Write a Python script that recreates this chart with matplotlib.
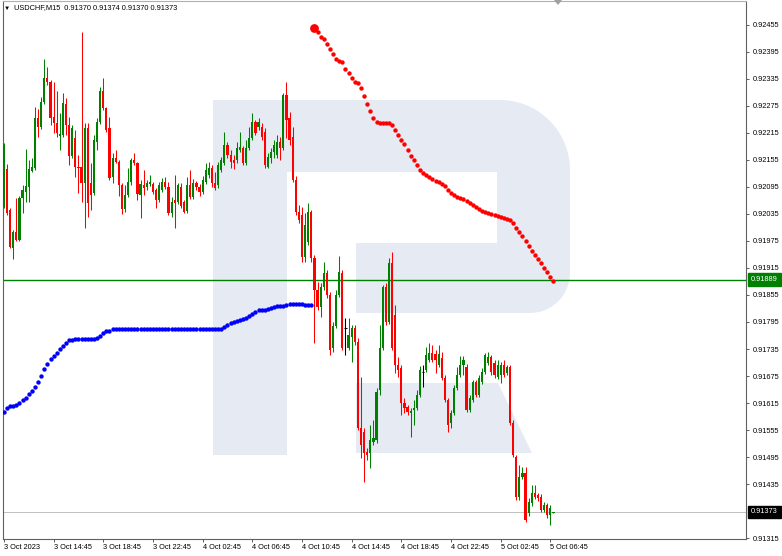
import numpy as np
import matplotlib
matplotlib.use("Agg")
import matplotlib.pyplot as plt
from matplotlib.patches import Polygon
from matplotlib.transforms import blended_transform_factory

plt.rcParams['font.family'] = ['Liberation Sans', 'DejaVu Sans']

# USDCHF M15 bars, prices in points (1 point = 0.00001)
opens = [
    92051, 92135, 92044, 91960, 91995, 91978, 92071, 92084, 92095, 92131,
    92138, 92249, 92229, 92284, 92338, 92327, 92251, 92238, 92209, 92211,
    92280, 92233, 92164, 92204, 92140, 92140, 92104, 92227, 92104, 92082,
    92195, 92240, 92307, 92271, 92227, 92118, 92160, 92151, 92100, 92047,
    92078, 92107, 92155, 92149, 92078, 92100, 92095, 92102, 92102, 92089,
    92067, 92089, 92107, 92095, 92038, 92067, 92062, 92095, 92062, 92042,
    92100, 92073, 92104, 92095, 92084, 92107, 92122, 92138, 92104, 92100,
    92133, 92149, 92189, 92167, 92155, 92155, 92178, 92182, 92149, 92182,
    92204, 92240, 92229, 92229, 92218, 92140, 92160, 92173, 92167, 92195,
    92182, 92300, 92249, 92207, 92111, 92040, 92033, 91940, 91973, 92040,
    91938, 91867, 91829, 91873, 91904, 91855, 91738, 91787, 91855, 91904,
    91782, 91738, 91762, 91782, 91751, 91560, 91551, 91507, 91504, 91529,
    91533, 91644, 91738, 91873, 91795, 91927, 91811, 91700, 91693, 91615,
    91607, 91593, 91600, 91604, 91633, 91684, 91689, 91711, 91727, 91724,
    91700, 91715, 91671, 91622, 91571, 91593, 91649, 91678, 91700, 91695,
    91600, 91622, 91662, 91633, 91662, 91684, 91704, 91718, 91704, 91673,
    91678, 91700, 91682, 91695, 91571, 91495, 91407, 91451, 91460, 91371,
    91393, 91415, 91411, 91407, 91378, 91389, 91367, 91370,
]
highs = [
    92193, 92147, 92049, 92000, 92071, 92075, 92100, 92180, 92155, 92160,
    92273, 92269, 92295, 92380, 92362, 92333, 92329, 92307, 92260, 92304,
    92293, 92251, 92233, 92222, 92167, 92440, 92238, 92238, 92149, 92211,
    92249, 92318, 92338, 92273, 92251, 92171, 92178, 92155, 92104, 92100,
    92138, 92160, 92171, 92151, 92111, 92133, 92111, 92122, 92107, 92093,
    92107, 92115, 92118, 92107, 92073, 92122, 92104, 92104, 92067, 92118,
    92133, 92113, 92109, 92102, 92120, 92149, 92151, 92144, 92129, 92151,
    92162, 92218, 92195, 92178, 92167, 92195, 92218, 92187, 92200, 92229,
    92260, 92244, 92249, 92238, 92227, 92171, 92182, 92200, 92211, 92207,
    92304, 92327, 92262, 92229, 92120, 92055, 92051, 92038, 92060, 92044,
    91944, 91884, 91882, 91929, 91911, 91862, 91795, 91867, 91942, 91911,
    91804, 91804, 91789, 91789, 91760, 91673, 91560, 91515, 91567, 91578,
    91649, 91789, 91878, 91882, 91938, 91951, 91833, 91718, 91700, 91627,
    91611, 91604, 91622, 91644, 91698, 91700, 91740, 91749, 91744, 91733,
    91744, 91729, 91678, 91627, 91600, 91655, 91695, 91720, 91720, 91702,
    91633, 91667, 91667, 91678, 91693, 91727, 91729, 91722, 91711, 91711,
    91707, 91711, 91700, 91700, 91578, 91500, 91478, 91473, 91473, 91404,
    91433, 91433, 91415, 91413, 91395, 91393, 91389, 91374,
]
lows = [
    92049, 92033, 91960, 91935, 91975, 91975, 92038, 92062, 92062, 92129,
    92133, 92207, 92224, 92280, 92322, 92233, 92215, 92207, 92178, 92207,
    92211, 92144, 92160, 92118, 92082, 92062, 92004, 92029, 92044, 92078,
    92178, 92235, 92267, 92218, 92111, 92104, 92149, 92075, 92035, 92040,
    92073, 92100, 92144, 92067, 92027, 92078, 92089, 92098, 92080, 92049,
    92062, 92084, 92091, 92033, 92029, 92004, 92058, 92049, 92038, 92038,
    92069, 92069, 92089, 92075, 92080, 92102, 92115, 92095, 92089, 92093,
    92129, 92144, 92160, 92138, 92135, 92149, 92173, 92144, 92144, 92178,
    92200, 92211, 92222, 92200, 92138, 92138, 92149, 92160, 92160, 92155,
    92178, 92204, 92189, 92107, 92033, 92015, 91929, 91929, 91967, 91929,
    91749, 91822, 91807, 91867, 91849, 91722, 91729, 91782, 91851, 91733,
    91722, 91733, 91707, 91744, 91555, 91493, 91440, 91489, 91471, 91522,
    91527, 91633, 91733, 91789, 91791, 91733, 91682, 91673, 91589, 91593,
    91589, 91540, 91567, 91600, 91629, 91651, 91684, 91707, 91707, 91682,
    91695, 91667, 91618, 91551, 91560, 91589, 91644, 91673, 91678, 91595,
    91595, 91618, 91629, 91629, 91658, 91680, 91700, 91678, 91671, 91669,
    91660, 91673, 91678, 91567, 91495, 91400, 91400, 91447, 91351, 91364,
    91387, 91402, 91398, 91373, 91373, 91360, 91344, 91370,
]
closes = [
    92189, 92038, 91962, 91995, 91978, 92071, 92089, 92098, 92135, 92140,
    92249, 92229, 92284, 92338, 92327, 92249, 92238, 92215, 92213, 92282,
    92233, 92164, 92227, 92140, 92138, 92104, 92227, 92060, 92078, 92200,
    92240, 92307, 92271, 92222, 92115, 92160, 92151, 92100, 92047, 92078,
    92107, 92155, 92149, 92080, 92102, 92093, 92104, 92107, 92084, 92067,
    92100, 92107, 92095, 92038, 92062, 92060, 92100, 92053, 92040, 92100,
    92073, 92104, 92095, 92084, 92111, 92133, 92138, 92104, 92093, 92144,
    92155, 92189, 92167, 92151, 92149, 92182, 92184, 92149, 92182, 92204,
    92240, 92215, 92240, 92207, 92144, 92162, 92173, 92189, 92195, 92182,
    92300, 92244, 92200, 92111, 92040, 92022, 91940, 92011, 92040, 91938,
    91867, 91829, 91873, 91904, 91855, 91733, 91787, 91855, 91907, 91738,
    91782, 91767, 91782, 91751, 91560, 91522, 91504, 91500, 91533, 91538,
    91640, 91738, 91873, 91795, 91927, 91738, 91700, 91689, 91615, 91604,
    91595, 91598, 91604, 91633, 91689, 91684, 91722, 91727, 91711, 91711,
    91724, 91671, 91622, 91567, 91593, 91649, 91678, 91700, 91711, 91600,
    91627, 91662, 91633, 91671, 91684, 91722, 91718, 91684, 91678, 91700,
    91700, 91678, 91695, 91571, 91500, 91407, 91451, 91460, 91355, 91395,
    91415, 91407, 91404, 91378, 91389, 91367, 91382, 91373,
]

# blue dotted indicator (bars 0..99) and red dotted indicator (bars 100..177)
blue_start = 0
blue_line = [
    91596, 91604, 91608, 91609, 91611, 91616, 91621, 91627, 91634, 91642,
    91650, 91662, 91675, 91690, 91702, 91712, 91720, 91727, 91734, 91742,
    91748, 91754, 91756, 91758, 91758, 91758, 91758, 91758, 91758, 91757,
    91759, 91765, 91770, 91774, 91776, 91779, 91779, 91779, 91779, 91779,
    91779, 91779, 91779, 91779, 91779, 91779, 91779, 91779, 91779, 91780,
    91780, 91780, 91780, 91780, 91780, 91780, 91780, 91780, 91780, 91780,
    91780, 91780, 91780, 91780, 91780, 91780, 91780, 91780, 91780, 91780,
    91780, 91783, 91788, 91792, 91795, 91797, 91799, 91802, 91804, 91808,
    91813, 91818, 91821, 91822, 91822, 91824, 91827, 91829, 91830, 91830,
    91831, 91832, 91834, 91834, 91834, 91834, 91834, 91833, 91833, 91833,
]
red_start = 100
red_line = [
    92449, 92440, 92429, 92423, 92412, 92402, 92390, 92380, 92375, 92372,
    92357, 92348, 92338, 92328, 92325, 92314, 92296, 92279, 92264, 92248,
    92239, 92238, 92238, 92238, 92236, 92232, 92221, 92211, 92200, 92190,
    92178, 92164, 92154, 92143, 92133, 92127, 92122, 92117, 92113, 92109,
    92106, 92102, 92098, 92089, 92081, 92076, 92072, 92070, 92068, 92064,
    92059, 92054, 92050, 92045, 92042, 92039, 92036, 92034, 92032, 92030,
    92028, 92025, 92024, 92021, 92014, 92003, 91994, 91987, 91974, 91964,
    91953, 91943, 91934, 91925, 91914, 91905, 91895, 91885,
]

level_price = 0.91889
bid_price = 0.91373
price_ticks = [0.91315, 0.91435, 0.91495, 0.91555, 0.91615, 0.91675, 0.91735,
               0.91795, 0.91855, 0.91915, 0.91975, 0.92035, 0.92095, 0.92155,
               0.92215, 0.92275, 0.92335, 0.92395, 0.92455]
time_labels = ["3 Oct 2023", "3 Oct 14:45", "3 Oct 18:45", "3 Oct 22:45",
               "4 Oct 02:45", "4 Oct 06:45", "4 Oct 10:45", "4 Oct 14:45",
               "4 Oct 18:45", "4 Oct 22:45", "5 Oct 02:45", "5 Oct 06:45"]
bars_per_label = 16
title = "USDCHF,M15  0.91370 0.91374 0.91370 0.91373"

W, H = 782, 556
FS = 5.3
fig = plt.figure(figsize=(W / 100, H / 100), dpi=100)
ax = fig.add_axes([3 / W, 1 - 539 / H, 743 / W, 538 / H])


def fpt(x, y):
    # pixel position (top-left origin) -> figure fraction
    return (x / W, 1 - y / H)


# watermark "R"
wm = '#e5eaf3'
t1 = np.radians(np.linspace(-90, 0, 20))
t2 = np.radians(np.linspace(0, 90, 12))
bowl = [(213, 100)]
bowl += [(500 + 70 * np.cos(t), 170 + 70 * np.sin(t)) for t in t1]
bowl += [(530 + 40 * np.cos(t), 273 + 40 * np.sin(t)) for t in t2]
bowl += [(356, 313), (356, 243), (497, 243), (497, 172), (287, 172),
         (287, 455), (213, 455)]
leg = [(356, 383), (498, 383), (532, 453), (356, 453)]
for shape in (bowl, leg):
    ax.add_patch(Polygon([fpt(x, y) for x, y in shape], closed=True,
                         transform=fig.transFigure, fc=wm, ec='none', zorder=0))

o = np.array(opens) / 1e5
h = np.array(highs) / 1e5
l = np.array(lows) / 1e5
c = np.array(closes) / 1e5
idx = np.arange(len(o))
colors = np.where(c > o, '#008000', np.where(c < o, '#ff0000', '#000000'))

ax.axhline(bid_price, color='#c0c0c0', lw=0.7, zorder=1)
ax.axhline(level_price, color='#008000', lw=1.0, zorder=2)

ax.vlines(idx, l, h, colors=colors, linewidth=0.75, zorder=3)
ax.bar(idx, np.abs(c - o), bottom=np.minimum(o, c), width=0.7,
       color=colors, linewidth=0, zorder=4)
flat = c == o
ax.hlines(c[flat], idx[flat] - 0.35, idx[flat] + 0.35, colors='#000000',
          lw=0.75, zorder=4)

bx = np.arange(len(blue_line)) + blue_start
ax.scatter(bx, np.array(blue_line) / 1e5, s=10, color='#0000ff', lw=0, zorder=5)
rx = np.arange(len(red_line)) + red_start
ry = np.array(red_line) / 1e5
ax.scatter(rx, ry, s=10, color='#ff0000', lw=0, zorder=5)
ax.scatter(rx[:1], ry[:1], s=40, color='#ff0000', lw=0, zorder=6)

ax.set_xlim(-0.3, 239.0)
ax.set_ylim(0.91313, 0.92508)

ax.yaxis.tick_right()
ax.set_yticks(price_ticks)
ax.set_yticklabels(['%.5f' % p for p in price_ticks])
ax.set_xticks(np.arange(len(time_labels)) * bars_per_label)
ax.set_xticklabels(time_labels)
for lbl in ax.get_xticklabels():
    lbl.set_horizontalalignment('left')
ax.tick_params(axis='both', length=2.2, width=0.6, color='#404040',
               labelsize=FS, labelcolor='black')
ax.tick_params(axis='y', pad=2.5)
ax.tick_params(axis='x', pad=1.5)
for sp in ax.spines.values():
    sp.set_color('#606060')
    sp.set_linewidth(0.8)
ax.spines['top'].set_color('#b0b0b0')

trans = blended_transform_factory(ax.transAxes, ax.transData)
ax.text(1 + 5 / 743, level_price, '%.5f' % level_price, transform=trans,
        ha='left', va='center', fontsize=FS, color='white', clip_on=False,
        bbox=dict(boxstyle='square,pad=0.4', fc='#008000', ec='#008000'),
        zorder=10)
ax.text(1 + 5 / 743, bid_price, '%.5f' % bid_price, transform=trans,
        ha='left', va='center', fontsize=FS, color='white', clip_on=False,
        bbox=dict(boxstyle='square,pad=0.4', fc='black', ec='black'),
        zorder=10)

fig.text(*fpt(4, 8), '\u25bc', fontsize=4.5, va='center', ha='left')
fig.text(*fpt(14, 8), title, fontsize=FS, va='center', ha='left')
fig.add_artist(Polygon([fpt(554, 0), fpt(562, 0), fpt(558, 5)], closed=True,
                       transform=fig.transFigure, fc='#a0a0a0', ec='none'))

fig.savefig('out.png', dpi=100, facecolor='white')
